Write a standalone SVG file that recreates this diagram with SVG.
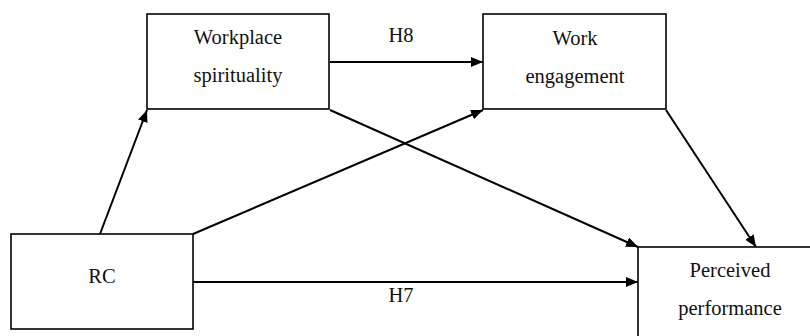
<svg xmlns="http://www.w3.org/2000/svg" width="810" height="336" viewBox="0 0 810 336">
  <defs>
    <marker id="arrow" viewBox="0 0 12 10" refX="12" refY="5" markerWidth="12" markerHeight="10" markerUnits="userSpaceOnUse" orient="auto">
      <path d="M0,0 L12,5 L0,10 Z" fill="#000"/>
    </marker>
  </defs>
  <style>
    .box { fill: #fff; stroke: #000; stroke-width: 1.6; }
    .label { font-size: 20.5px; fill: #111; text-anchor: middle; }
    .edge { stroke: #000; stroke-width: 2; fill: none; marker-end: url(#arrow); }
  </style>
  <rect width="810" height="336" fill="#fff"/>

  <g font-family="Liberation Serif, Tinos, Times New Roman, DejaVu Serif, serif">
  <g id="connectors">
    <line class="edge" x1="100" y1="234" x2="147" y2="110"/>
    <line class="edge" x1="193" y1="234" x2="483" y2="110"/>
    <line class="edge" x1="330" y1="62" x2="483" y2="62"/>
    <line class="edge" x1="330" y1="110" x2="638" y2="247"/>
    <line class="edge" x1="666" y1="110" x2="756" y2="247"/>
    <line class="edge" x1="193" y1="282" x2="638" y2="282"/>
    <text class="label" x="401" y="42">H8</text>
    <text class="label" x="401" y="302">H7</text>
  </g>

  <g id="workplace-spirituality">
    <rect class="box" x="147" y="14" width="182" height="95"/>
    <text class="label" x="238" y="44">Workplace</text>
    <text class="label" x="238" y="82">spirituality</text>
  </g>

  <g id="work-engagement">
    <rect class="box" x="483" y="14" width="183" height="95"/>
    <text class="label" x="575" y="45">Work</text>
    <text class="label" x="575" y="83">engagement</text>
  </g>

  <g id="rc">
    <rect class="box" x="11" y="234" width="182" height="95"/>
    <text class="label" x="102" y="283">RC</text>
  </g>

  <g id="perceived-performance">
    <rect class="box" x="638" y="247" width="183" height="100"/>
    <text class="label" x="730" y="277">Perceived</text>
    <text class="label" x="730" y="315">performance</text>
  </g>
  </g>
</svg>
